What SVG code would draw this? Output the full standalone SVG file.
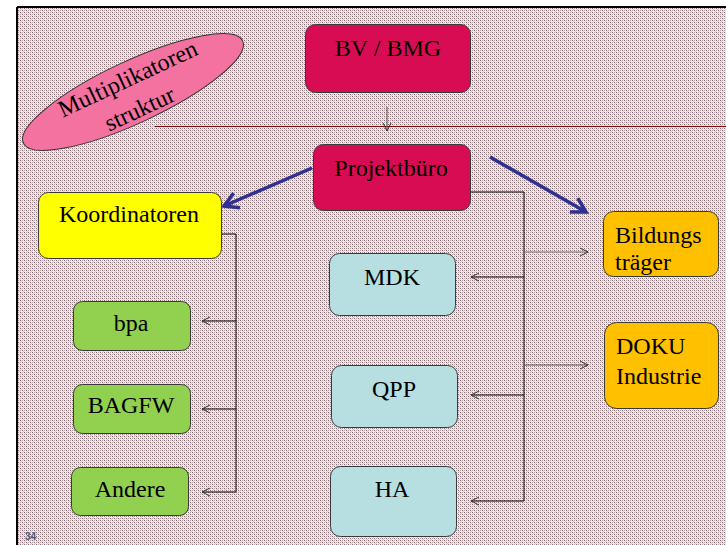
<svg xmlns="http://www.w3.org/2000/svg" width="726" height="545" viewBox="0 0 726 545">
<defs>
<pattern id="bg" width="4" height="4" patternUnits="userSpaceOnUse">
<rect width="4" height="4" fill="#efeaeb"/>
<rect x="0" y="0" width="1" height="1" fill="#866a71"/>
<rect x="2" y="2" width="1" height="1" fill="#866a71"/>
<rect x="2" y="0" width="1" height="1" fill="#b3a2a6"/>
<rect x="0" y="2" width="1" height="1" fill="#b3a2a6"/>
<rect x="1" y="1" width="1" height="1" fill="#d2c7c9"/>
<rect x="3" y="3" width="1" height="1" fill="#d2c7c9"/>
</pattern>
<marker id="thin" markerWidth="10" markerHeight="10" refX="9" refY="5" orient="auto" markerUnits="userSpaceOnUse">
<path d="M1,1 L9,5 L1,9" fill="none" stroke="#333" stroke-width="1"/>
</marker>
<marker id="blue" markerWidth="22" markerHeight="22" refX="18" refY="11" orient="auto" markerUnits="userSpaceOnUse">
<path d="M4,3 L18,11 L4,19" fill="none" stroke="#2e3192" stroke-width="3.5" stroke-linejoin="miter"/>
</marker>
</defs>
<style>
.box{stroke:#3a3a3a;stroke-width:1}
.t{font-family:'Liberation Serif','Times New Roman',serif;font-size:24px;fill:#000}
.c{text-anchor:middle}
</style>
<rect width="726" height="545" fill="#fff"/>
<rect x="17" y="7" width="709" height="538" fill="url(#bg)"/>
<line x1="17" y1="7" x2="726" y2="7" stroke="#000" stroke-width="2"/>
<line x1="17" y1="7" x2="17" y2="545" stroke="#000" stroke-width="2"/>
<line x1="155" y1="126.5" x2="726" y2="126.5" stroke="#7a0a0a" stroke-width="1"/>

<g id="connectors" fill="none" stroke="#000" stroke-width="1">
<line x1="387" y1="107" x2="387" y2="131" stroke="#555" marker-end="url(#thin)"/>
<line x1="312" y1="168" x2="224" y2="206" stroke="#2e3192" stroke-width="3.5" marker-end="url(#blue)"/>
<line x1="490" y1="157" x2="586" y2="212" stroke="#2e3192" stroke-width="3.5" marker-end="url(#blue)"/>
<polyline points="221,234 236,234 236,492"/>
<line x1="236" y1="321" x2="202" y2="321" marker-end="url(#thin)"/>
<line x1="236" y1="409" x2="202" y2="409" marker-end="url(#thin)"/>
<line x1="236" y1="492" x2="202" y2="492" marker-end="url(#thin)"/>
<polyline points="470,192 524,192 524,501"/>
<line x1="524" y1="277" x2="471" y2="277" marker-end="url(#thin)"/>
<line x1="524" y1="395" x2="471" y2="395" marker-end="url(#thin)"/>
<line x1="524" y1="501" x2="471" y2="501" marker-end="url(#thin)"/>
<line x1="524" y1="252" x2="588" y2="252" stroke="#777" marker-end="url(#thin)"/>
<line x1="524" y1="365" x2="588" y2="365" stroke="#555" marker-end="url(#thin)"/>
</g>

<g id="multiplikatoren">
<ellipse cx="133" cy="92" rx="121" ry="31" transform="rotate(-25 133 92)" fill="#f4729f" stroke="#333" stroke-width="1"/>
<text class="t c" font-size="22" transform="translate(131 86) rotate(-25)">Multiplikatoren</text>
<text class="t c" font-size="22" transform="translate(143 116) rotate(-25)">struktur</text>
</g>

<g id="bvbmg">
<rect class="box" x="305.5" y="24.5" width="165" height="68" rx="10" fill="#d70c52"/>
<text class="t c" x="388" y="56">BV / BMG</text>
</g>
<g id="projektbuero">
<rect class="box" x="313.5" y="144.5" width="157" height="66" rx="10" fill="#d70c52"/>
<text class="t c" x="391" y="176">Projektbüro</text>
</g>
<g id="koordinatoren">
<rect class="box" x="38.5" y="192.5" width="183" height="66" rx="10" fill="#ffff00"/>
<text class="t c" x="129" y="222">Koordinatoren</text>
</g>
<g id="bpa">
<rect class="box" x="73.5" y="301.5" width="117" height="49" rx="9" fill="#92d050"/>
<text class="t c" x="131" y="331">bpa</text>
</g>
<g id="bagfw">
<rect class="box" x="73.5" y="384.5" width="117" height="49" rx="9" fill="#92d050"/>
<text class="t c" x="131" y="413">BAGFW</text>
</g>
<g id="andere">
<rect class="box" x="71.5" y="467.5" width="117" height="48" rx="9" fill="#92d050"/>
<text class="t c" x="130" y="497">Andere</text>
</g>
<g id="mdk">
<rect class="box" x="329.5" y="253.5" width="126" height="62" rx="10" fill="#b7dfe2"/>
<text class="t c" x="392" y="285">MDK</text>
</g>
<g id="qpp">
<rect class="box" x="331.5" y="365.5" width="126" height="62" rx="10" fill="#b7dfe2"/>
<text class="t c" x="394" y="397">QPP</text>
</g>
<g id="ha">
<rect class="box" x="330.5" y="466.5" width="126" height="70" rx="10" fill="#b7dfe2"/>
<text class="t c" x="392" y="497">HA</text>
</g>
<g id="bildungstraeger">
<rect class="box" x="603.5" y="211.5" width="115" height="65" rx="10" fill="#ffc000"/>
<text class="t" x="615" y="243">Bildungs</text>
<text class="t" x="615" y="270">träger</text>
</g>
<g id="doku">
<rect class="box" x="604.5" y="322.5" width="114" height="86" rx="12" fill="#ffc000"/>
<text class="t" x="616" y="354">DOKU</text>
<text class="t" x="616" y="384">Industrie</text>
</g>
<text x="25" y="540" font-family="'Liberation Sans', sans-serif" font-size="10" font-weight="bold" fill="#4a5a8a">34</text>
</svg>
